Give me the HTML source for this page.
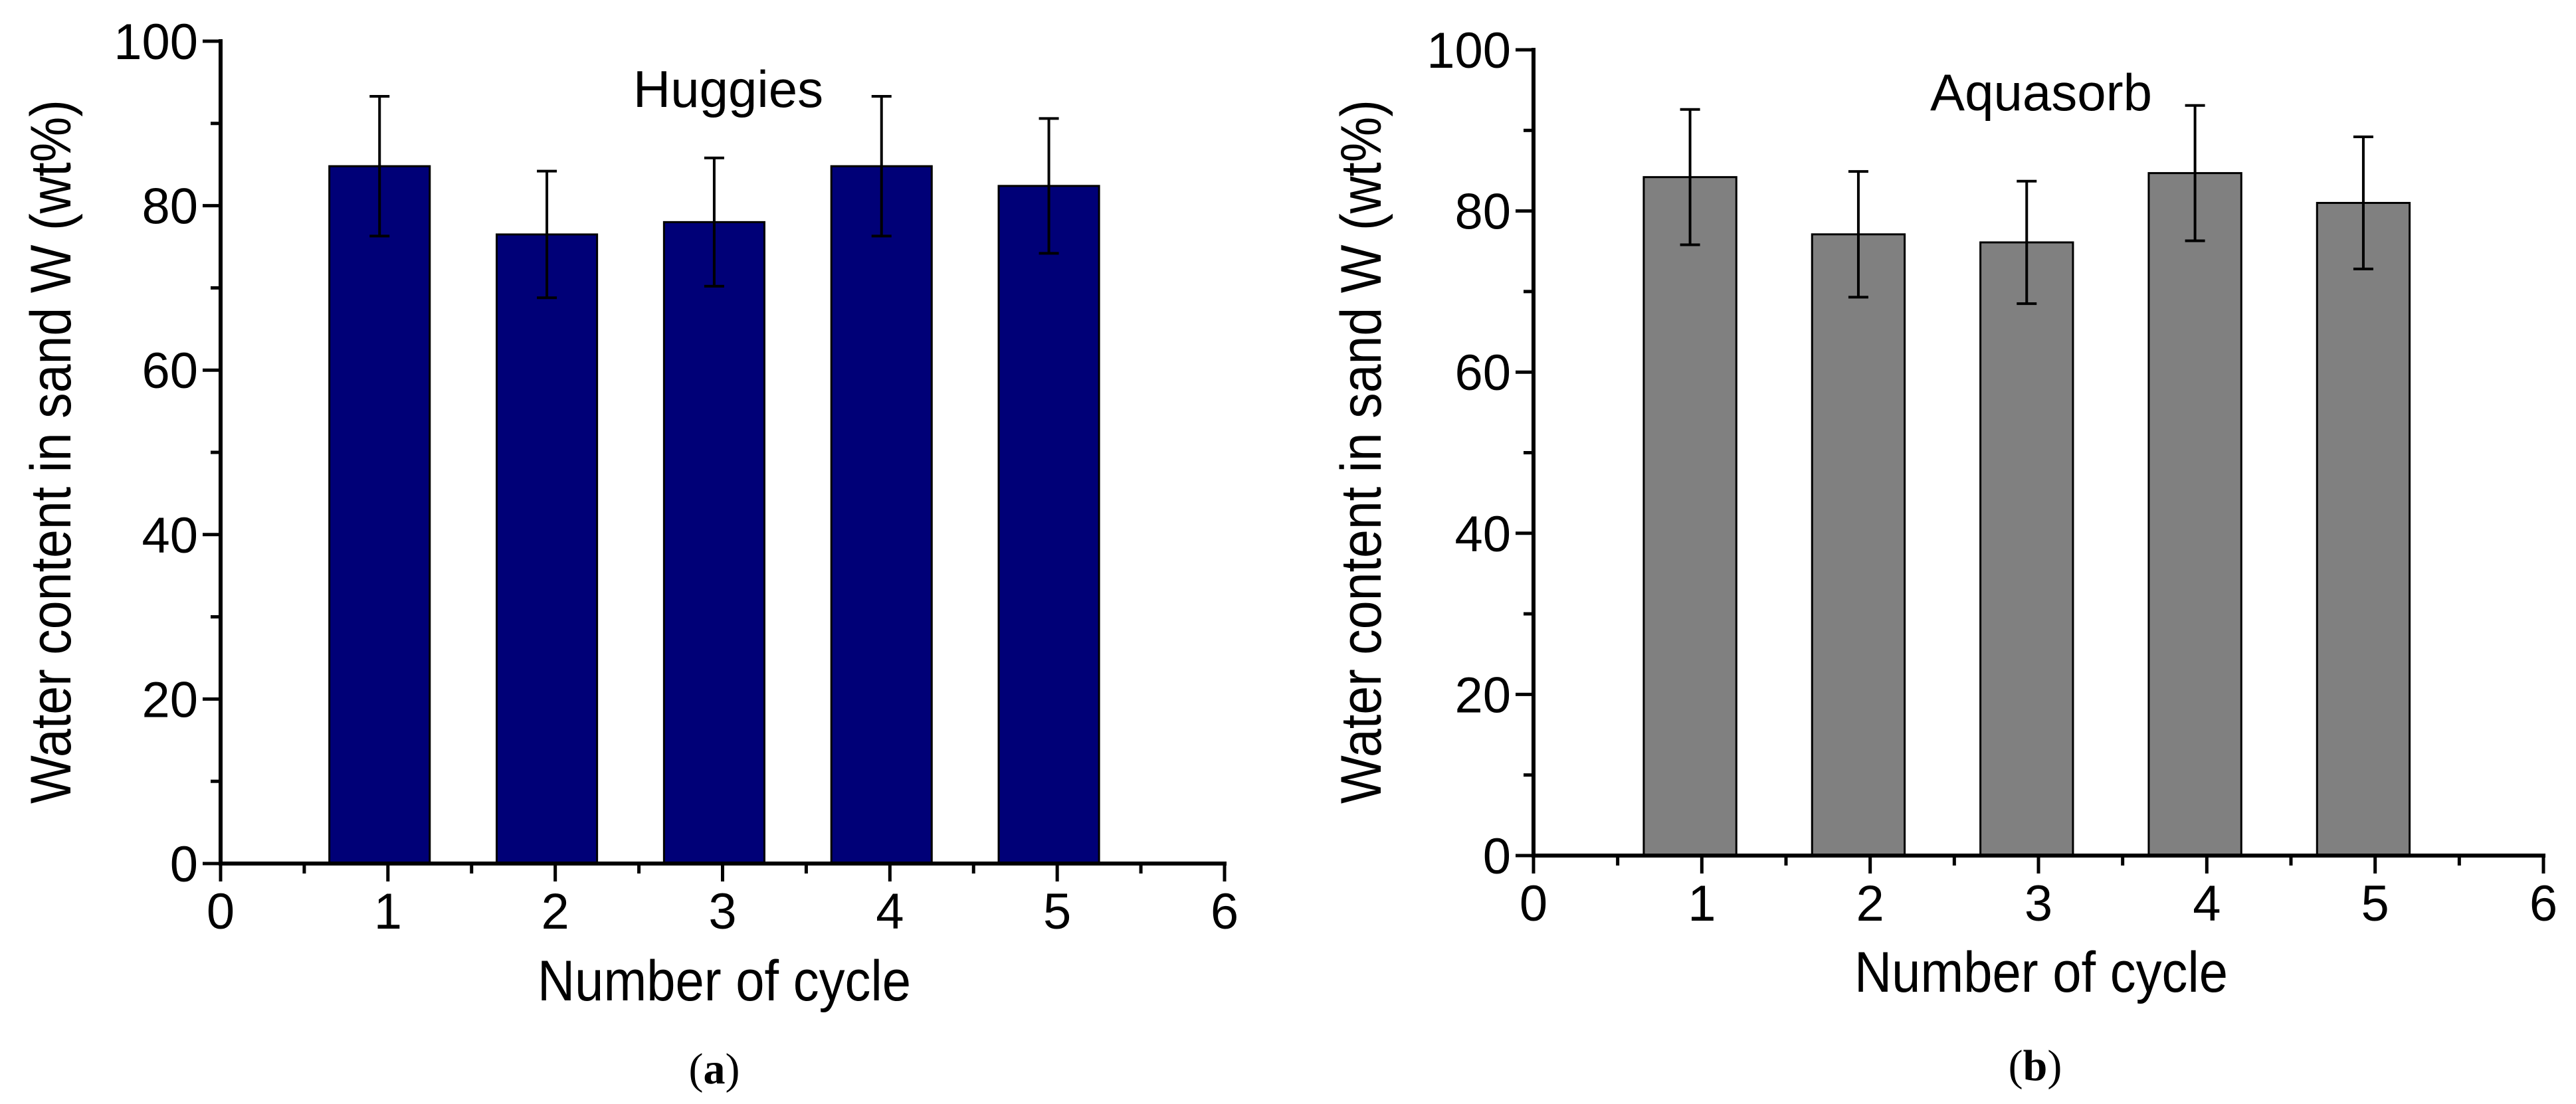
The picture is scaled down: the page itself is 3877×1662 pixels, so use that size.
<!DOCTYPE html>
<html><head><meta charset="utf-8"><style>
html,body{margin:0;padding:0;background:#fff;}
svg{display:block;}
text{font-family:"Liberation Sans",Arial,sans-serif;fill:#000;}
</style></head>
<body>
<svg id="fig" width="3877" height="1662" viewBox="0 0 3877 1662" xmlns="http://www.w3.org/2000/svg">
<rect width="3877" height="1662" fill="#fff"/>
</svg>
<script>
const cycles = [1, 2, 3, 4, 5];
const huggiesValues = [84.8, 76.5, 78.0, 84.8, 82.4];
const huggiesErrors = [8.5, 7.7, 7.8, 8.5, 8.2];
const aquasorbValues = [84.2, 77.1, 76.1, 84.7, 81.0];
const aquasorbErrors = [8.4, 7.8, 7.6, 8.4, 8.2];
const xTickLabels = ["0", "1", "2", "3", "4", "5", "6"];
const yTickLabels = ["0", "20", "40", "60", "80", "100"];

const NS = "http://www.w3.org/2000/svg";
const svg = document.getElementById('fig');
function mk(tag, attrs, parent) {
  const e = document.createElementNS(NS, tag);
  for (const k in attrs) e.setAttribute(k, attrs[k]);
  (parent || svg).appendChild(e);
  return e;
}

function drawChart(cfg) {
  const g = mk('g', {});
  
  
  const xs = v => cfg.x0 + (v - 0) / 6 * (cfg.x1 - cfg.x0);
  const ys = v => cfg.y0 - v / 100 * (cfg.y0 - cfg.y1);
  const bw = cfg.bw, off = cfg.off;

  cfg.values.forEach((v, i) => {
    const c = cycles[i] + off;
    const r = mk('rect', {x: xs(c - bw / 2), y: ys(v), width: xs(c + bw / 2) - xs(c - bw / 2), height: ys(0) - ys(v), fill: cfg.color, stroke: '#000', 'stroke-width': 3}, g);
    
    
  });
  cfg.values.forEach((v, i) => {
    const c = cycles[i] + off;
    const e = cfg.errors[i];
    const eg = mk('g', {stroke: '#000', 'stroke-width': 4, fill: 'none'}, g);
    
    
    const cx = xs(c);
    mk('line', {x1: cx, x2: cx, y1: ys(v + e), y2: ys(v - e)}, eg);
    mk('line', {x1: cx - 15, x2: cx + 15, y1: ys(v + e), y2: ys(v + e)}, eg);
    mk('line', {x1: cx - 15, x2: cx + 15, y1: ys(v - e), y2: ys(v - e)}, eg);
  });

  const ax = mk('g', {stroke: '#000', 'stroke-width': 6, fill: 'none', 'stroke-linecap': 'square'}, g);
  
  
  mk('line', {x1: xs(0), x2: xs(6), y1: ys(0), y2: ys(0)}, ax);
  mk('line', {x1: xs(0), x2: xs(0), y1: ys(0), y2: ys(100)}, ax);
  const tk = mk('g', {stroke: '#000', 'stroke-width': 5}, g);
  for (let i = 0; i <= 12; i++) {
    const v = i / 2, len = i % 2 ? 15 : 27;
    mk('line', {x1: xs(v), x2: xs(v), y1: ys(0), y2: ys(0) + len}, tk);
  }
  for (let i = 0; i <= 10; i++) {
    const v = i * 10, len = i % 2 ? 15 : 27;
    mk('line', {x1: xs(0) - len, x2: xs(0), y1: ys(v), y2: ys(v)}, tk);
  }
  xTickLabels.forEach((t, i) => {
    const e = mk('text', {x: xs(+t), y: ys(0) + 98, 'font-size': 76, 'text-anchor': 'middle'}, g);
    e.textContent = t;
    
    
  });
  yTickLabels.forEach((t) => {
    const e = mk('text', {x: xs(0) - 34, y: ys(+t) + 27, 'font-size': 76, 'text-anchor': 'end'}, g);
    e.textContent = t;
    
    
  });
  const xt = mk('text', {x: cfg.xtx, y: cfg.xty + 30, 'font-size': 86, 'text-anchor': 'middle', textLength: 562, lengthAdjust: 'spacingAndGlyphs'}, g);
  xt.textContent = 'Number of cycle';
  
  
  const yt = mk('text', {x: 0, y: 0, 'font-size': 86, 'text-anchor': 'middle', textLength: 1060, lengthAdjust: 'spacingAndGlyphs', transform: `translate(${cfg.ytx + 30},${cfg.yty}) rotate(-90)`}, g);
  yt.textContent = 'Water content in sand W (wt%)';
  
  
  const ti = mk('text', {x: cfg.tx, y: cfg.ty + 28, 'font-size': 78, 'text-anchor': 'middle'}, g);
  ti.textContent = cfg.title;
  
  
  const pl = mk('text', {x: cfg.px, y: cfg.py + 22, 'font-size': 66, 'text-anchor': 'middle', style: 'font-family:"Liberation Serif",serif'}, g);
  pl.innerHTML = '(<tspan font-weight="bold">' + cfg.panel + '</tspan>)';
  
  
}

drawChart({name: 'chart-huggies', x0: 332, x1: 1843, y0: 1300, y1: 62, values: huggiesValues, errors: huggiesErrors, color: '#000077', bw: 0.6, off: -0.05,
  xtx: 1090, xty: 1476, ytx: 76, yty: 680, tx: 1096, ty: 133, title: 'Huggies', px: 1075, py: 1609, panel: 'a'});
drawChart({name: 'chart-aquasorb', x0: 2308, x1: 3828, y0: 1288, y1: 75, values: aquasorbValues, errors: aquasorbErrors, color: '#808080', bw: 0.55, off: -0.07,
  xtx: 3072, xty: 1463, ytx: 2048, yty: 680, tx: 3072, ty: 138, title: 'Aquasorb', px: 3063, py: 1604, panel: 'b'});
</script>
</body></html>
